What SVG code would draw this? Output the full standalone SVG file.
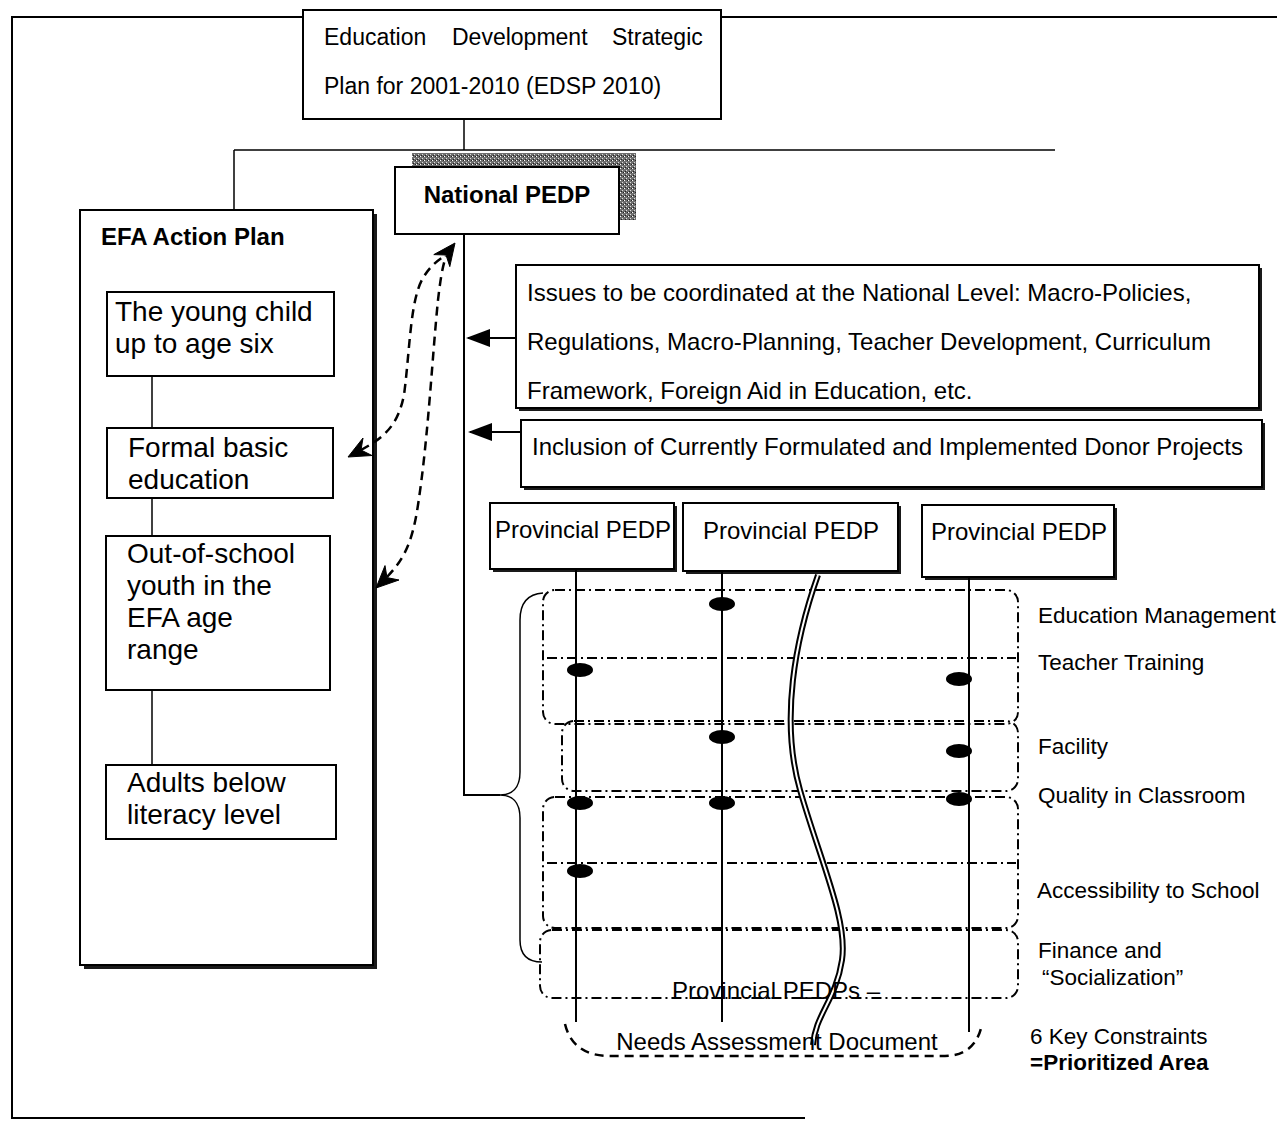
<svg xmlns="http://www.w3.org/2000/svg" width="1277" height="1122" viewBox="0 0 1277 1122">
  <style>
    text { font-family: "Liberation Sans", Arial, sans-serif; fill: #000; }
    .t22 { font-size: 22.5px; }
    .t23 { font-size: 23px; }
    .t24 { font-size: 24px; }
    .t28 { font-size: 28px; }
    .b { font-weight: bold; }
    .box { fill: #fff; stroke: #000; stroke-width: 2; }
    .ln { fill: none; stroke: #000; stroke-width: 2; }
    .thin { fill: none; stroke: #000; stroke-width: 1.5; }
    .shadow { fill: #1a1a1a; }
    .dd { fill: none; stroke: #000; stroke-width: 2; stroke-dasharray: 10 4 2 4; }
    .dash { fill: none; stroke: #000; stroke-width: 2.5; stroke-dasharray: 9 6; }
    .head { fill: #000; stroke: #000; stroke-width: 1; stroke-linejoin: miter; }
    .dot { fill: #000; }
  </style>
  <defs>
    <pattern id="grain" width="4" height="4" patternUnits="userSpaceOnUse">
      <rect width="4" height="4" fill="#6e6e6e"/>
      <rect x="0" y="0" width="1" height="1" fill="#fff"/>
      <rect x="2" y="2" width="1" height="1" fill="#ddd"/>
      <rect x="3" y="0" width="1" height="1" fill="#222"/>
      <rect x="1" y="3" width="1" height="1" fill="#222"/>
    </pattern>
    <marker id="tri" viewBox="0 0 24 20" refX="22" refY="10" markerWidth="24" markerHeight="20" markerUnits="userSpaceOnUse" orient="auto">
      <path d="M0,1 L24,10 L0,19 Z" fill="#000"/>
    </marker>
  </defs>

  <rect width="1277" height="1122" fill="#fff"/>

  <!-- page frame -->
  <g id="frame">
    <path class="ln" d="M303,17 H12 V1118 H805"/>
    <path class="ln" d="M721,17 H1277"/>
  </g>

  <!-- Education Development Strategic Plan -->
  <g id="edsp">
    <rect class="box" x="303" y="10" width="418" height="109"/>
    <text class="t23" x="324" y="45">Education</text>
    <text class="t23" x="452" y="45">Development</text>
    <text class="t23" x="612" y="45">Strategic</text>
    <text class="t23" x="324" y="94">Plan for 2001-2010 (EDSP 2010)</text>
  </g>

  <!-- National PEDP -->
  <g id="national-pedp">
    <rect x="412" y="153" width="224" height="67" fill="url(#grain)"/>
    <rect class="box" x="395" y="167" width="224" height="67"/>
    <text class="t24 b" x="507" y="203" text-anchor="middle">National PEDP</text>
  </g>

  <!-- EFA Action Plan -->
  <g id="efa-plan">
    <rect class="shadow" x="84" y="214" width="293" height="755"/>
    <rect class="box" x="80" y="210" width="293" height="755"/>
    <text class="t24 b" x="101" y="245">EFA Action Plan</text>
  </g>
  <g id="young-child">
    <rect class="box" x="107" y="292" width="227" height="84"/>
    <text class="t28" x="115" y="321">The young child</text>
    <text class="t28" x="115" y="353">up to age six</text>
  </g>
  <g id="formal-basic">
    <rect class="box" x="107" y="428" width="226" height="70"/>
    <text class="t28" x="128" y="457">Formal basic</text>
    <text class="t28" x="128" y="489">education</text>
  </g>
  <g id="out-of-school">
    <rect class="box" x="106" y="536" width="224" height="154"/>
    <text class="t28" x="127" y="563">Out-of-school</text>
    <text class="t28" x="127" y="595">youth in the</text>
    <text class="t28" x="127" y="627">EFA age</text>
    <text class="t28" x="127" y="659">range</text>
  </g>
  <g id="adults">
    <rect class="box" x="106" y="765" width="230" height="74"/>
    <text class="t28" x="127" y="792">Adults below</text>
    <text class="t28" x="127" y="824">literacy level</text>
  </g>

  <!-- National-level issues -->
  <g id="issues">
    <rect class="shadow" x="519" y="268" width="743" height="143"/>
    <rect class="box" x="516" y="265" width="743" height="143"/>
    <text class="t24" x="527" y="301">Issues to be coordinated at the National Level: Macro-Policies,</text>
    <text class="t24" x="527" y="350">Regulations, Macro-Planning, Teacher Development, Curriculum</text>
    <text class="t24" x="527" y="399">Framework, Foreign Aid in Education, etc.</text>
  </g>
  <g id="donor-projects">
    <rect class="shadow" x="524" y="423" width="741" height="67"/>
    <rect class="box" x="521" y="420" width="741" height="67"/>
    <text class="t24" x="532" y="455">Inclusion of Currently Formulated and Implemented Donor Projects</text>
  </g>

  <!-- Provincial PEDPs -->
  <g id="provincial-1">
    <rect class="shadow" x="493" y="506" width="184" height="66"/>
    <rect class="box" x="490" y="503" width="184" height="66"/>
    <text class="t24" x="495" y="538">Provincial PEDP</text>
  </g>
  <g id="provincial-2">
    <rect class="shadow" x="686" y="506" width="215" height="68"/>
    <rect class="box" x="683" y="503" width="215" height="68"/>
    <text class="t24" x="703" y="539">Provincial PEDP</text>
  </g>
  <g id="provincial-3">
    <rect class="shadow" x="925" y="508" width="192" height="72"/>
    <rect class="box" x="922" y="505" width="192" height="72"/>
    <text class="t24" x="931" y="540">Provincial PEDP</text>
  </g>

  <!-- key constraint rows -->
  <g id="constraint-rows">
    <rect class="dd" x="543" y="590" width="475" height="134" rx="12"/>
    <path class="dd" d="M547,658 H1016"/>
    <rect class="dd" x="562" y="721" width="456" height="70" rx="12"/>
    <rect class="dd" x="543" y="797" width="475" height="131" rx="12"/>
    <path class="dd" d="M547,863 H1016"/>
    <rect class="dd" x="540" y="930" width="478" height="68" rx="12"/>
  </g>

  <!-- province lines and priority marks -->
  <g id="province-lines">
    <path class="ln" d="M576,569 V1022"/>
    <path class="ln" d="M722,571 V1022"/>
    <path class="ln" d="M969,577 V1032"/>
    <path d="M818,575 C795,640 780,720 800,790 C820,860 848,920 842,960 C836,1000 815,1015 813,1045" fill="none" stroke="#000" stroke-width="6"/>
    <path d="M818,575 C795,640 780,720 800,790 C820,860 848,920 842,960 C836,1000 815,1015 813,1045" fill="none" stroke="#fff" stroke-width="2"/>
    <ellipse class="dot" cx="722" cy="604" rx="13" ry="7"/>
    <ellipse class="dot" cx="580" cy="670" rx="13" ry="7"/>
    <ellipse class="dot" cx="959" cy="679" rx="13" ry="7"/>
    <ellipse class="dot" cx="722" cy="737" rx="13" ry="7"/>
    <ellipse class="dot" cx="959" cy="751" rx="13" ry="7"/>
    <ellipse class="dot" cx="580" cy="803" rx="13" ry="7"/>
    <ellipse class="dot" cx="722" cy="803" rx="13" ry="7"/>
    <ellipse class="dot" cx="959" cy="799" rx="13" ry="7"/>
    <ellipse class="dot" cx="580" cy="871" rx="13" ry="7"/>
  </g>

  <!-- needs assessment document -->
  <g id="needs-assessment">
    <text class="t24" x="776" y="999" text-anchor="middle">Provincial PEDPs –</text>
    <path class="dash" d="M565,1024 C570,1045 585,1056 610,1056 H945 C965,1056 978,1045 982,1024" stroke-width="2"/>
    <text class="t24" x="777" y="1050" text-anchor="middle">Needs Assessment Document</text>
  </g>

  <!-- constraint labels -->
  <g id="constraint-labels">
    <text class="t22" x="1038" y="623">Education Management</text>
    <text class="t22" x="1038" y="670">Teacher Training</text>
    <text class="t22" x="1038" y="754">Facility</text>
    <text class="t22" x="1038" y="803">Quality in Classroom</text>
    <text class="t22" x="1037" y="898">Accessibility to School</text>
    <text class="t22" x="1038" y="958">Finance and</text>
    <text class="t22" x="1042" y="985">“Socialization”</text>
    <text class="t22" x="1030" y="1044">6 Key Constraints</text>
    <text class="t22 b" x="1030" y="1070">=Prioritized Area</text>
  </g>

  <!-- connectors, drawn last so the arrow tips sit over the plan box -->
  <g id="connectors">
    <path class="thin" d="M464,119 V150"/>
    <path class="thin" d="M234,150 H1055"/>
    <path class="thin" d="M234,150 V210"/>
    <path class="ln" d="M464,234 V795 H500"/>
    <path class="thin" d="M152,376 V428"/>
    <path class="thin" d="M152,498 V536"/>
    <path class="thin" d="M152,690 V765"/>
    <path class="ln" d="M516,338 H468" marker-end="url(#tri)"/>
    <path class="ln" d="M521,432 H470" marker-end="url(#tri)"/>
    <!-- dashed two-way links -->
    <path class="dash" d="M361,450 C385,437 398,425 404,395 C410,350 410,300 423,278 C430,266 438,260 446,255"/>
    <path class="dash" d="M387,577 C403,560 412,545 418,505 C428,440 432,360 438,300 C440,283 442,268 446,256"/>
    <path class="head" d="M348,457 L372,455.5 L361,450 L363,438 Z"/>
    <path class="head" d="M376,588 L399,580 L387,577.6 L385,565.6 Z"/>
    <path class="head" d="M455,243 L449.8,266.6 L446,255 L433.8,254.6 Z"/>
    <!-- brace -->
    <path class="thin" d="M543,593 C528,594 520,602 520,620 V772 C520,788 512,795 500,795 C512,795 520,802 520,818 V940 C520,955 528,962 542,962"/>
  </g>
</svg>
